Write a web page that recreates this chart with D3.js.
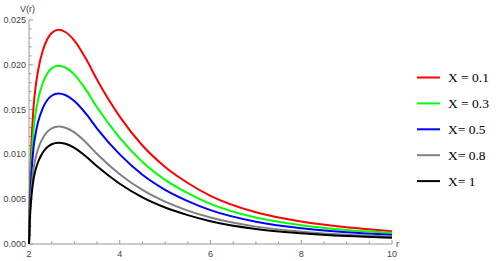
<!DOCTYPE html>
<html>
<head>
<meta charset="utf-8">
<script src="https://cdn.jsdelivr.net/npm/d3@7"></script>
<style>
  body { margin: 0; background: #fff; }
  svg { display: block; }
</style>
</head>
<body>
<div id="chart"></div>
<script>
// r samples
const rValues = [2, 2.02, 2.05, 2.1, 2.15, 2.2, 2.3, 2.4, 2.5, 2.65, 2.8, 3, 3.25, 3.5, 4, 4.5, 5, 5.5, 6, 7, 8, 9, 10];

const vRed = [0, .00598, .01076, .0153, .01769, .01936, .02151, .02282, .02354, .0239, .02366, .02271, .02072, .01833, .01422, .01099, .0086, .00681, .00538, .00354, .00251, .00186, .00143];
const vGreen = [0, .00498, .00896, .01274, .01473, .01612, .01791, .019, .0196, .0199, .0197, .0189, .01725, .01526, .01184, .00915, .00716, .00567, .00448, .00295, .00209, .00155, .00125];
const vBlue = [0, .0042, .00756, .01075, .01243, .01361, .01512, .01604, .01655, .0168, .01663, .01596, .01457, .01289, .01, .00773, .00605, .00479, .00378, .00249, .00176, .00131, .00104];
const vGray = [0, .00328, .0059, .00838, .00969, .01061, .01179, .01251, .0129, .0131, .01297, .01245, .01136, .01005, .00779, .00603, .00472, .00373, .00295, .00194, .00138, .00102, .00085];
const vBlack = [0, .00283, .00509, .00723, .00836, .00915, .01017, .01079, .01113, .0113, .01119, .01074, .0098, .00867, .00672, .0052, .00407, .00322, .00254, .00167, .00119, .00088, .0007];

const labels = ['X = 0.1', 'X = 0.3', 'X= 0.5', 'X= 0.8', 'X= 1'];
const colors = ['#ff0000', '#00ff00', '#0000ff', '#808080', '#000000'];
const series = [vRed, vGreen, vBlue, vGray, vBlack];

const xTicks = [2, 4, 6, 8, 10];
const yTicks = [0, 0.005, 0.01, 0.015, 0.02, 0.025];

const size = { width: 498, height: 261 };

const x = d3.scaleLinear().domain([2, 10]).range([29, 392]);
const y = d3.scaleLinear().domain([0, 0.025]).range([244, 20]);

const svg = d3.select('#chart')
  .append('svg')
  .attr('width', size.width)
  .attr('height', size.height);

const axisColor = '#999';
const textColor = '#444';

// x axis (ticks point into the plot)
const gx = svg.append('g')
  .attr('transform', `translate(0, ${y(0)})`)
  .style('font-family', 'Liberation Sans, Arial, sans-serif')
  .style('font-size', '9px');

gx.append('line')
  .attr('x1', x(2)).attr('x2', x(10))
  .attr('stroke', axisColor);

gx.selectAll('.minor')
  .data(d3.range(2, 10.01, 0.5))
  .enter()
  .append('line')
  .attr('x1', (d) => x(d)).attr('x2', (d) => x(d))
  .attr('y1', 0)
  .attr('y2', (d) => (xTicks.includes(d) ? -4 : -2.5))
  .attr('stroke', axisColor);

gx.selectAll('.lbl')
  .data(xTicks)
  .enter()
  .append('text')
  .attr('x', (d) => x(d))
  .attr('y', 13)
  .attr('text-anchor', 'middle')
  .attr('fill', textColor)
  .text((d) => d);

// y axis
const gy = svg.append('g')
  .attr('transform', `translate(${x(2)}, 0)`)
  .style('font-family', 'Liberation Sans, Arial, sans-serif')
  .style('font-size', '9px');

gy.append('line')
  .attr('y1', y(0)).attr('y2', y(0.025))
  .attr('stroke', axisColor);

gy.selectAll('.minor')
  .data(d3.range(0, 26).map((i) => i * 0.001))
  .enter()
  .append('line')
  .attr('y1', (d) => y(d)).attr('y2', (d) => y(d))
  .attr('x1', 0)
  .attr('x2', (_, i) => (i % 5 === 0 ? 4 : 2.5))
  .attr('stroke', axisColor);

gy.selectAll('.lbl')
  .data(yTicks)
  .enter()
  .append('text')
  .attr('x', -3)
  .attr('y', (d) => y(d) + 3)
  .attr('text-anchor', 'end')
  .attr('fill', textColor)
  .text((d) => d.toFixed(3));

svg.append('text')
  .attr('x', 20).attr('y', 12)
  .style('font-family', 'Liberation Sans, Arial, sans-serif')
  .style('font-size', '9px')
  .attr('fill', textColor)
  .text('V(r)');

svg.append('text')
  .attr('x', 396).attr('y', 247)
  .style('font-family', 'Liberation Sans, Arial, sans-serif')
  .style('font-size', '9px')
  .attr('fill', textColor)
  .text('r');

// curves
const line = d3.line()
  .x((d) => x(d[0]))
  .y((d) => y(d[1]))
  .curve(d3.curveMonotoneX);

series.forEach((vals, i) => {
  svg.append('path')
    .datum(rValues.map((r, j) => [r, vals[j]]))
    .attr('d', line)
    .attr('fill', 'none')
    .attr('stroke', colors[i])
    .attr('stroke-width', 2);
});

// legend
const legend = svg.append('g')
  .style('font-family', 'Liberation Serif, Times New Roman, serif')
  .style('font-size', '13.5px');

labels.forEach((lbl, i) => {
  const ly = 77.5 + i * 25.9;
  legend.append('line')
    .attr('x1', 417).attr('x2', 440)
    .attr('y1', ly).attr('y2', ly)
    .attr('stroke', colors[i])
    .attr('stroke-width', 2);
  legend.append('text')
    .attr('x', 448)
    .attr('y', ly + 4.5)
    .attr('fill', '#000')
    .text(lbl);
});
</script>
</body>
</html>
